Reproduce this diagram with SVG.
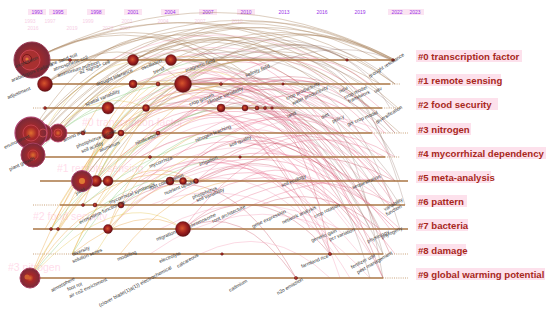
<svg xmlns="http://www.w3.org/2000/svg" width="550" height="314" viewBox="0 0 550 314">
<defs>
<radialGradient id="ng" cx="45%" cy="45%" r="60%">
<stop offset="0" stop-color="#d8552c"/>
<stop offset="0.55" stop-color="#9a1e1e"/>
<stop offset="1" stop-color="#5a0e12"/>
</radialGradient>
<radialGradient id="bg" cx="50%" cy="50%" r="50%">
<stop offset="0" stop-color="#e07030"/>
<stop offset="0.35" stop-color="#a82828"/>
<stop offset="0.75" stop-color="#8a2a34"/>
<stop offset="1" stop-color="#7a2838"/>
</radialGradient>
</defs>
<style>
.yr{font-family:"Liberation Sans",Arial,sans-serif;font-size:5px;fill:#9a33e8;text-anchor:middle}
.yg{font-family:"Liberation Sans",Arial,sans-serif;font-size:5px;fill:#f0a8d0;text-anchor:middle;opacity:.55}
.yb{fill:#fbe4f2}
.gh{font-family:"Liberation Sans",Arial,sans-serif;font-size:10.5px;fill:#ff8fbc;opacity:.3}
.cl{font-family:"Liberation Sans",Arial,sans-serif;font-size:9.6px;font-weight:bold;fill:#a8281c}
.hl{fill:#fde1ec}
.ln{stroke:#aa7644;stroke-width:1.3;fill:none}
.dt{stroke:#c9a27a;stroke-width:1;stroke-dasharray:1 1.2;fill:none}
.n{fill:url(#ng);stroke:#5a0e12;stroke-width:.4}
.nl{font-family:"Liberation Sans",Arial,sans-serif;font-size:5px;fill:#333}
#links path{fill:none}
.br{stroke:#a8805a;stroke-width:.65;opacity:.6}
.pk{stroke:#e4587a;stroke-width:.6;opacity:.55}
.rd{stroke:#c02e48;stroke-width:.6;opacity:.5}
.gy{stroke:#8e6a62;stroke-width:.55;opacity:.55}
.or{stroke:#e89c30;stroke-width:.65;opacity:.55}
.yl{stroke:#e2c040;stroke-width:.65;opacity:.55}
.gr{stroke:#86c87a;stroke-width:.65;opacity:.6}
.pl{stroke:#f4a2bc;stroke-width:.8;opacity:.5}
</style>
<rect width="550" height="314" fill="#ffffff"/>

<g id="years">
<rect class="yb" x="28" y="9" width="18" height="6"/>
<rect class="yb" x="49" y="9" width="18" height="6"/>
<rect class="yb" x="87" y="9" width="18" height="6"/>
<rect class="yb" x="124" y="9" width="18" height="6"/>
<rect class="yb" x="161" y="9" width="18" height="6"/>
<rect class="yb" x="199" y="9" width="18" height="6"/>
<rect class="yb" x="237" y="9" width="18" height="6"/>
<rect class="yb" x="388" y="9" width="18" height="6"/>
<rect class="yb" x="406" y="9" width="18" height="6"/>
<text class="yr" x="37" y="14">1993</text>
<text class="yr" x="58" y="14">1995</text>
<text class="yr" x="96" y="14">1998</text>
<text class="yr" x="133" y="14">2001</text>
<text class="yr" x="170" y="14">2004</text>
<text class="yr" x="208" y="14">2007</text>
<text class="yr" x="246" y="14">2010</text>
<text class="yr" x="284" y="14">2013</text>
<text class="yr" x="322" y="14">2016</text>
<text class="yr" x="360" y="14">2019</text>
<text class="yr" x="397" y="14">2022</text>
<text class="yr" x="415" y="14">2023</text>
<text class="yg" x="30" y="23">1993</text>
<text class="yg" x="50" y="23">1997</text>
<text class="yg" x="88" y="23">1999</text>
<text class="yg" x="127" y="23">2001</text>
<text class="yg" x="163" y="23">2004</text>
<text class="yg" x="200" y="23">2007</text>
<text class="yg" x="237" y="23">2010</text>
<text class="yg" x="33" y="30">2016</text>
<text class="yg" x="72" y="30">2019</text>
<text class="yg" x="108" y="30">2022</text>
<text class="yg" x="125" y="30">2007</text>
</g>

<g id="ghost-labels">
<text class="gh" x="82" y="126">#0 transcription factor</text>
<text class="gh" x="57" y="172">#1 remote sensing</text>
<text class="gh" x="33" y="220">#2 food security</text>
<text class="gh" x="8" y="271">#3 nitrogen</text>
</g>

<g id="links">
<path class="br" d="M32 60 Q213 -35 395 60"/>
<path class="br" d="M32 60 Q200 -25 360 84"/>
<path class="br" d="M45 84 Q220 -30 393 60"/>
<path class="br" d="M45 84 Q200 -15 347 60"/>
<path class="br" d="M31 133 Q190 -40 380 60"/>
<path class="br" d="M43 133 Q220 -50 395 84"/>
<path class="br" d="M58 133 Q230 -45 398 108"/>
<path class="br" d="M33 155 Q200 -50 390 60"/>
<path class="br" d="M82 181 Q240 -30 395 84"/>
<path class="br" d="M108 109 Q260 -10 395 60"/>
<path class="br" d="M133 60 Q260 -5 393 60"/>
<path class="br" d="M171 60 Q280 5 393 60"/>
<path class="br" d="M183 84 Q290 0 395 60"/>
<path class="br" d="M31 133 Q160 -20 290 60"/>
<path class="br" d="M32 60 Q150 -5 260 84"/>
<path class="br" d="M58 133 Q200 -30 347 84"/>
<path class="br" d="M96 181 Q230 -20 370 108"/>
<path class="br" d="M45 84 Q160 0 283 60"/>
<path class="br" d="M108 133 Q240 0 380 84"/>
<path class="br" d="M33 155 Q180 -30 330 108"/>
<path class="br" d="M31 133 Q120 -10 210 60"/>
<path class="br" d="M43 133 Q140 -5 250 84"/>
<path class="br" d="M32 60 Q120 10 220 60"/>
<path class="br" d="M45 84 Q120 20 183 84"/>
<path class="br" d="M58 133 Q170 0 300 108"/>
<path class="br" d="M82 181 Q200 20 320 133"/>
<path class="br" d="M32 60 Q190 -15 330 60"/>
<path class="br" d="M31 133 Q200 -55 400 133"/>
<path class="br" d="M43 133 Q180 -20 320 84"/>
<path class="br" d="M133 60 Q240 10 330 84"/>

<path class="pk" d="M183 84 Q280 20 380 108"/>
<path class="pk" d="M220 108 Q300 40 385 133"/>
<path class="pk" d="M183 229 Q280 100 385 157"/>
<path class="pk" d="M170 181 Q270 80 370 133"/>
<path class="pk" d="M196 181 Q300 90 395 181"/>
<path class="pk" d="M146 108 Q260 30 360 157"/>
<path class="pk" d="M246 108 Q320 60 395 205"/>
<path class="pk" d="M183 84 Q270 50 350 205"/>
<path class="pk" d="M121 205 Q240 80 340 133"/>
<path class="pk" d="M221 84 Q300 30 370 84"/>
<path class="pk" d="M257 108 Q330 60 390 157"/>
<path class="pk" d="M183 229 Q300 130 400 229"/>
<path class="pk" d="M108 229 Q250 90 390 205"/>
<path class="pk" d="M121 133 Q250 40 330 181"/>
<path class="pk" d="M158 133 Q260 60 350 108"/>
<path class="pk" d="M170 181 Q290 120 395 229"/>
<path class="pk" d="M108 181 Q230 60 320 84"/>
<path class="pk" d="M146 108 Q230 30 300 84"/>
<path class="pk" d="M133 84 Q240 40 310 157"/>
<path class="pk" d="M171 60 Q260 30 330 133"/>
<path class="pk" d="M196 181 Q270 140 310 229"/>
<path class="pk" d="M140 133 Q230 70 290 181"/>
<path class="pk" d="M200 157 Q280 100 360 205"/>
<path class="pk" d="M150 181 Q250 120 340 254"/>
<path class="pk" d="M230 133 Q300 90 380 181"/>
<path class="pk" d="M160 205 Q260 130 370 229"/>
<path class="pk" d="M130 157 Q220 80 300 133"/>
<path class="pk" d="M210 84 Q290 60 360 133"/>
<path class="pk" d="M250 157 Q320 110 395 157"/>
<path class="pk" d="M190 205 Q270 150 330 205"/>
<path class="pk" d="M240 181 Q310 140 380 254"/>
<path class="pk" d="M170 133 Q250 80 320 205"/>
<path class="pk" d="M130 108 Q250 50 370 181"/>
<path class="pk" d="M150 133 Q270 70 390 229"/>
<path class="pk" d="M170 157 Q280 100 395 254"/>
<path class="pk" d="M190 84 Q300 70 395 205"/>
<path class="pk" d="M140 181 Q240 120 330 229"/>
<path class="pk" d="M210 229 Q300 170 390 181"/>
<path class="pk" d="M230 205 Q310 160 395 205"/>
<path class="pk" d="M120 157 Q230 60 350 157"/>
<path class="pk" d="M160 108 Q260 70 340 108"/>
<path class="pk" d="M200 133 Q290 80 370 157"/>

<path class="rd" d="M220 108 Q310 70 390 254"/>
<path class="rd" d="M246 108 Q300 100 330 254"/>
<path class="rd" d="M183 84 Q250 60 300 133"/>
<path class="rd" d="M183 229 Q260 170 330 254"/>
<path class="rd" d="M121 205 Q220 140 296 278"/>
<path class="rd" d="M183 229 Q240 200 296 278"/>
<path class="rd" d="M257 108 Q320 110 383 278"/>
<path class="rd" d="M220 108 Q280 150 330 254"/>
<path class="rd" d="M183 84 Q300 100 383 278"/>
<path class="rd" d="M170 181 Q250 100 340 181"/>
<path class="rd" d="M146 108 Q240 60 320 157"/>
<path class="rd" d="M196 181 Q280 130 360 229"/>
<path class="rd" d="M108 133 Q200 70 270 157"/>
<path class="rd" d="M220 157 Q290 120 350 181"/>
<path class="rd" d="M260 205 Q320 180 380 229"/>
<path class="rd" d="M160 133 Q300 20 395 133"/>
<path class="rd" d="M183 84 Q280 70 350 181"/>
<path class="rd" d="M140 157 Q250 90 370 205"/>
<path class="rd" d="M200 181 Q300 130 395 181"/>

<path class="gy" d="M171 60 Q300 60 385 205"/>
<path class="gy" d="M133 60 Q280 40 370 229"/>
<path class="gy" d="M183 84 Q300 80 383 254"/>
<path class="gy" d="M221 84 Q320 80 395 181"/>
<path class="gy" d="M146 108 Q300 70 380 229"/>
<path class="gy" d="M220 108 Q330 90 400 205"/>
<path class="gy" d="M183 84 Q320 60 390 133"/>
<path class="gy" d="M257 108 Q340 90 383 254"/>
<path class="gy" d="M171 60 Q310 30 395 108"/>
<path class="gy" d="M133 84 Q280 60 360 181"/>
<path class="gy" d="M283 84 Q340 70 395 133"/>
<path class="gy" d="M246 108 Q330 130 370 278"/>
<path class="gy" d="M200 60 Q320 40 395 157"/>
<path class="gy" d="M260 84 Q350 60 400 229"/>
<path class="gy" d="M300 60 Q360 50 405 205"/>
<path class="gy" d="M230 60 Q330 20 395 84"/>
<path class="gy" d="M250 60 Q340 20 390 108"/>
<path class="gy" d="M290 84 Q350 90 383 278"/>
<path class="gy" d="M210 60 Q300 30 347 60"/>
<path class="gy" d="M240 84 Q320 30 393 60"/>
<path class="gy" d="M270 60 Q350 40 400 181"/>
<path class="gy" d="M190 60 Q300 10 380 84"/>

<path class="or" d="M82 181 Q130 80 220 60"/>
<path class="or" d="M95 181 Q140 90 230 84"/>
<path class="or" d="M108 229 Q150 110 246 108"/>
<path class="or" d="M83 205 Q120 100 183 84"/>
<path class="or" d="M58 229 Q110 110 170 60"/>
<path class="or" d="M51 229 Q100 130 146 108"/>
<path class="or" d="M72 254 Q120 140 196 181"/>
<path class="or" d="M30 278 Q100 150 170 133"/>
<path class="or" d="M30 278 Q80 200 121 205"/>
<path class="or" d="M95 205 Q160 100 221 84"/>
<path class="or" d="M108 181 Q160 60 257 60"/>
<path class="or" d="M83 133 Q130 40 210 60"/>
<path class="yl" d="M108 133 Q170 40 247 84"/>
<path class="yl" d="M121 133 Q180 60 260 108"/>
<path class="yl" d="M43 133 Q90 50 171 60"/>
<path class="yl" d="M58 133 Q100 70 183 84"/>
<path class="yl" d="M33 155 Q90 80 146 108"/>
<path class="yl" d="M30 278 Q120 180 183 229"/>
<path class="or" d="M72 254 Q140 200 183 229"/>
<path class="or" d="M83 205 Q140 160 196 181"/>
<path class="yl" d="M108 229 Q160 170 220 181"/>
<path class="yl" d="M51 229 Q80 180 108 181"/>
<path class="or" d="M58 229 Q100 160 158 133"/>
<path class="yl" d="M72 254 Q110 170 150 157"/>
<path class="or" d="M30 278 Q70 180 108 133"/>
<path class="yl" d="M95 254 Q140 180 190 157"/>
<path class="or" d="M120 254 Q170 190 230 181"/>
<path class="yl" d="M60 205 Q110 120 160 108"/>
<path class="or" d="M82 181 Q110 100 146 84"/>
<path class="yl" d="M96 181 Q130 110 183 108"/>
<path class="or" d="M45 229 Q90 150 133 108"/>
<path class="yl" d="M30 278 Q60 220 96 181"/>
<path class="or" d="M108 229 Q140 160 200 133"/>
<path class="gr" d="M82 181 Q110 110 171 84"/>
<path class="gr" d="M95 181 Q150 70 246 60"/>
<path class="gr" d="M108 109 Q150 70 200 60"/>
<path class="gr" d="M58 133 Q110 90 170 84"/>
<path class="gr" d="M30 278 Q90 200 150 181"/>
<path class="gr" d="M83 205 Q160 140 240 133"/>
<path class="gr" d="M121 205 Q190 150 260 157"/>
<path class="gr" d="M33 155 Q80 110 108 108"/>
<path class="gr" d="M72 254 Q130 160 200 133"/>
<path class="gr" d="M51 229 Q120 140 210 108"/>
<path class="gr" d="M108 181 Q150 120 220 108"/>

<path class="pl" d="M140 60 Q260 20 370 108"/>
<path class="pl" d="M150 84 Q270 40 380 157"/>
<path class="pl" d="M170 108 Q270 60 385 181"/>
<path class="pl" d="M180 133 Q280 90 390 205"/>
<path class="pl" d="M190 157 Q290 120 395 229"/>
<path class="pl" d="M130 181 Q250 120 360 254"/>
<path class="pl" d="M150 205 Q260 160 370 278"/>
<path class="pl" d="M160 84 Q260 110 350 229"/>
<path class="pl" d="M200 108 Q290 130 340 278"/>
<path class="pl" d="M210 133 Q300 140 370 254"/>
<path class="pl" d="M230 84 Q320 120 360 229"/>
<path class="pl" d="M180 60 Q290 90 330 205"/>
<path class="pl" d="M120 108 Q230 50 330 108"/>
<path class="pl" d="M140 157 Q240 100 340 157"/>
<path class="pl" d="M160 229 Q250 180 340 229"/>
<path class="pl" d="M200 254 Q270 220 330 278"/>
<path class="pl" d="M110 60 Q220 10 320 60"/>
<path class="pl" d="M250 133 Q320 100 385 133"/>
<path class="pl" d="M120 133 Q220 70 310 133"/>
<path class="pl" d="M130 205 Q230 140 320 181"/>
<path class="pl" d="M150 254 Q240 190 330 229"/>
<path class="pl" d="M170 60 Q260 60 320 181"/>
<path class="pl" d="M140 84 Q220 40 290 108"/>
<path class="pl" d="M190 181 Q280 160 350 278"/>
</g>

<g id="cluster-0">
<line class="ln" x1="33" y1="60" x2="395" y2="60"/>
<circle class="n" cx="70" cy="60" r="1.5"/>
<circle class="n" cx="133" cy="60" r="5.5"/>
<circle class="n" cx="171" cy="60" r="5.5"/>
<circle class="n" cx="347" cy="60" r="1.3"/>
<circle class="n" cx="393" cy="60" r="1.3"/>
<circle cx="32" cy="60" r="18" fill="url(#bg)" stroke="#9c3a54" stroke-width="1"/>
<circle cx="30" cy="60" r="10" fill="#a83030" stroke="#d24a5a" stroke-width=".8"/>
<circle cx="27" cy="59" r="4.5" fill="#b83a3a" stroke="#6a1010" stroke-width=".8"/>
<circle cx="27" cy="59" r="1.6" fill="#e07a3a"/>
<rect class="hl" x="416" y="50" width="106" height="12"/>
<text class="cl" x="418" y="60">#0 transcription factor</text>
</g>

<g id="cluster-1">
<line class="ln" x1="45" y1="84" x2="390" y2="84"/>
<line class="dt" x1="390" y1="84" x2="400" y2="84"/>
<circle class="n" cx="45" cy="84" r="7.5"/>
<circle class="n" cx="133" cy="84" r="4"/>
<circle class="n" cx="158" cy="84" r="2"/>
<circle class="n" cx="183" cy="84" r="8.5"/>
<circle class="n" cx="221" cy="84" r="1.5"/>
<circle class="n" cx="283" cy="84" r="1.2"/>
<rect class="hl" x="416" y="74" width="85" height="12"/>
<text class="cl" x="418" y="84">#1 remote sensing</text>
</g>

<g id="cluster-2">
<line class="dt" x1="33" y1="108" x2="45" y2="108"/>
<line class="ln" x1="45" y1="108" x2="382" y2="108"/>
<line class="dt" x1="382" y1="108" x2="402" y2="108"/>
<circle class="n" cx="45" cy="108" r="1.5"/>
<circle class="n" cx="108" cy="108" r="6"/>
<circle class="n" cx="146" cy="108" r="3.5"/>
<circle class="n" cx="221" cy="108" r="4"/>
<circle class="n" cx="245" cy="108" r="3"/>
<circle class="n" cx="257" cy="108" r="2"/>
<circle class="n" cx="265" cy="108" r="1.5"/>
<circle class="n" cx="272" cy="108" r="1.3"/>
<rect class="hl" x="416" y="98" width="82" height="12"/>
<text class="cl" x="418" y="108">#2 food security</text>
</g>

<g id="cluster-3">
<line class="ln" x1="30" y1="133" x2="372" y2="133"/>
<line class="dt" x1="372" y1="133" x2="408" y2="133"/>
<circle class="n" cx="83" cy="133" r="2"/>
<circle class="n" cx="108" cy="133" r="6"/>
<circle class="n" cx="121" cy="133" r="3"/>
<circle class="n" cx="158" cy="133" r="2"/>
<circle cx="58" cy="133" r="9" fill="url(#bg)" stroke="#c0406a" stroke-width=".8"/>
<circle cx="43" cy="133" r="9" fill="url(#bg)" stroke="#c0406a" stroke-width=".8"/>
<circle cx="31" cy="133" r="16" fill="url(#bg)" stroke="#b04470" stroke-width="1.2"/>
<circle cx="31" cy="133" r="8" fill="none" stroke="#d04a5a" stroke-width=".7"/>
<circle cx="43" cy="133" r="4" fill="none" stroke="#e05a5a" stroke-width=".6"/>
<circle cx="58" cy="133" r="4" fill="none" stroke="#e05a5a" stroke-width=".6"/>
<rect class="hl" x="416" y="123" width="55" height="12"/>
<text class="cl" x="418" y="133">#3 nitrogen</text>
</g>

<g id="cluster-4">
<line class="ln" x1="33" y1="157" x2="385" y2="157"/>
<line class="dt" x1="385" y1="157" x2="400" y2="157"/>
<circle class="n" cx="150" cy="157" r="1.5"/>
<circle class="n" cx="240" cy="157" r="1.3"/>
<circle cx="33" cy="155" r="12" fill="url(#bg)" stroke="#a84060" stroke-width="1"/>
<circle cx="33" cy="155" r="5" fill="none" stroke="#d85050" stroke-width=".6"/>
<rect class="hl" x="416" y="147" width="130" height="12"/>
<text class="cl" x="418" y="157">#4 mycorrhizal dependency</text>
</g>

<g id="cluster-5">
<line class="ln" x1="40" y1="181" x2="408" y2="181"/>
<circle class="n" cx="96" cy="181" r="5.5"/>
<circle class="n" cx="108" cy="181" r="5"/>
<circle class="n" cx="170" cy="181" r="4"/>
<circle class="n" cx="183" cy="181" r="3.5"/>
<circle class="n" cx="196" cy="181" r="2.5"/>
<circle cx="82" cy="181" r="10.5" fill="url(#bg)" stroke="#a84070" stroke-width="1"/>
<circle cx="82" cy="181" r="3" fill="#e07a34"/>
<rect class="hl" x="416" y="171" width="75" height="12"/>
<text class="cl" x="418" y="181">#5 meta-analysis</text>
</g>

<g id="cluster-6">
<line class="dt" x1="33" y1="205" x2="60" y2="205"/>
<line class="ln" x1="60" y1="205" x2="405" y2="205"/>
<circle class="n" cx="83" cy="205" r="1.5"/>
<circle class="n" cx="95" cy="205" r="2"/>
<circle class="n" cx="121" cy="205" r="3"/>
<rect class="hl" x="416" y="195" width="51" height="12"/>
<text class="cl" x="418" y="205">#6 pattern</text>
</g>

<g id="cluster-7">
<line class="ln" x1="33" y1="229" x2="408" y2="229"/>
<circle class="n" cx="51" cy="229" r="1.5"/>
<circle class="n" cx="58" cy="229" r="1.5"/>
<circle class="n" cx="108" cy="229" r="4.5"/>
<circle class="n" cx="183" cy="229" r="7.5"/>
<rect class="hl" x="416" y="219" width="52" height="12"/>
<text class="cl" x="418" y="229">#7 bacteria</text>
</g>

<g id="cluster-8">
<line class="dt" x1="33" y1="254" x2="72" y2="254"/>
<line class="ln" x1="72" y1="254" x2="383" y2="254"/>
<line class="dt" x1="383" y1="254" x2="408" y2="254"/>
<circle class="n" cx="222" cy="254" r="1.3"/>
<circle class="n" cx="330" cy="254" r="1.6"/>
<rect class="hl" x="416" y="244" width="50" height="12"/>
<text class="cl" x="418" y="254">#8 damage</text>
</g>

<g id="cluster-9">
<line class="ln" x1="30" y1="278" x2="383" y2="278"/>
<line class="dt" x1="383" y1="278" x2="408" y2="278"/>
<circle class="n" cx="296" cy="278" r="1.6"/>
<circle cx="30" cy="278" r="10" fill="url(#bg)" stroke="#a84060" stroke-width="1"/>
<circle cx="27" cy="277" r="2.5" fill="#d06030"/>
<rect class="hl" x="416" y="268" width="129" height="12"/>
<text class="cl" x="418" y="278">#9 global warming potential</text>
</g>

<g id="node-labels" class="nl">
<text x="16" y="68" transform="rotate(-22 16 68)">expression</text>
<text x="50" y="66" transform="rotate(-20 50 66)">fine sand soil</text>
<text x="54" y="71" transform="rotate(-20 54 71)">atmospheric co2</text>
<text x="58" y="77" transform="rotate(-18 58 77)">ammonium nutrition</text>
<text x="80" y="74" transform="rotate(-20 80 74)">a2 sigma+ cell</text>
<text x="12" y="82" transform="rotate(-22 12 82)">arabidopsis thaliana</text>
<text x="97" y="86" transform="rotate(-22 97 86)">drought tolerance</text>
<text x="142" y="70" transform="rotate(-22 142 70)">oscillation</text>
<text x="154" y="74" transform="rotate(-22 154 74)">trend</text>
<text x="186" y="72" transform="rotate(-20 186 72)">magnetic field</text>
<text x="246" y="77" transform="rotate(-22 246 77)">salinity field</text>
<text x="370" y="78" transform="rotate(-33 370 78)">drought resistance</text>
<text x="8" y="99" transform="rotate(-22 8 99)">adjustment</text>
<text x="86" y="106" transform="rotate(-22 86 106)">spatial variability</text>
<text x="190" y="106" transform="rotate(-22 190 106)">crop growth</text>
<text x="208" y="104" transform="rotate(-22 208 104)">climate variability</text>
<text x="287" y="100" transform="rotate(-25 287 100)">crop productivity</text>
<text x="293" y="105" transform="rotate(-25 293 105)">water productivity</text>
<text x="340" y="93" transform="rotate(-25 340 93)">ndvi</text>
<text x="345" y="99" transform="rotate(-25 345 99)">crop model</text>
<text x="349" y="103" transform="rotate(-25 349 103)">framework</text>
<text x="375" y="93" transform="rotate(-25 375 93)">uav</text>
<text x="288" y="118" transform="rotate(-25 288 118)">land</text>
<text x="322" y="119" transform="rotate(-25 322 119)">diet</text>
<text x="333" y="123" transform="rotate(-25 333 123)">policy</text>
<text x="348" y="126" transform="rotate(-22 348 126)">gis crop model</text>
<text x="377" y="124" transform="rotate(-32 377 124)">diversification</text>
<text x="5" y="149" transform="rotate(-25 5 149)">environment</text>
<text x="64" y="142" transform="rotate(-25 64 142)">amino acid</text>
<text x="77" y="148" transform="rotate(-22 77 148)">phosphorus uptake</text>
<text x="82" y="153" transform="rotate(-22 82 153)">soil acidity</text>
<text x="100" y="152" transform="rotate(-22 100 152)">aluminum</text>
<text x="136" y="145" transform="rotate(-22 136 145)">nitrification</text>
<text x="196" y="142" transform="rotate(-22 196 142)">nitrogen leaching</text>
<text x="230" y="147" transform="rotate(-22 230 147)">soil quality</text>
<text x="10" y="171" transform="rotate(-25 10 171)">plant growth</text>
<text x="150" y="168" transform="rotate(-22 150 168)">mycorrhiza</text>
<text x="200" y="166" transform="rotate(-22 200 166)">irrigation</text>
<text x="76" y="195" transform="rotate(-25 76 195)">yield</text>
<text x="150" y="190" transform="rotate(-22 150 190)">root colonization</text>
<text x="165" y="195" transform="rotate(-22 165 195)">nutrient uptake</text>
<text x="193" y="199" transform="rotate(-22 193 199)">phosphorus</text>
<text x="197" y="202" transform="rotate(-22 197 202)">soil variability</text>
<text x="282" y="187" transform="rotate(-22 282 187)">soil ecology</text>
<text x="353" y="189" transform="rotate(-22 353 189)">sequestration</text>
<text x="110" y="204" transform="rotate(-22 110 204)">mycorrhizal symbiosis</text>
<text x="80" y="224" transform="rotate(-25 80 224)">ecosystem functioning</text>
<text x="190" y="228" transform="rotate(-25 190 228)">chromosome</text>
<text x="213" y="223" transform="rotate(-25 213 223)">root architecture</text>
<text x="253" y="228" transform="rotate(-25 253 228)">gene expression</text>
<text x="283" y="224" transform="rotate(-25 283 224)">network analysis</text>
<text x="315" y="218" transform="rotate(-25 315 218)">crop rotation</text>
<text x="385" y="211" transform="rotate(-30 385 211)">variability</text>
<text x="387" y="216" transform="rotate(-30 387 216)">function</text>
<text x="330" y="241" transform="rotate(-22 330 241)">pcr variation</text>
<text x="382" y="239" transform="rotate(-25 382 239)">phylogeny</text>
<text x="157" y="241" transform="rotate(-22 157 241)">migration</text>
<text x="312" y="242" transform="rotate(-22 312 242)">genetic gain</text>
<text x="368" y="243" transform="rotate(-25 368 243)">physiology</text>
<text x="73" y="256" transform="rotate(-22 73 256)">diversity</text>
<text x="73" y="263" transform="rotate(-22 73 263)">solution series</text>
<text x="118" y="261" transform="rotate(-22 118 261)">modeling</text>
<text x="160" y="263" transform="rotate(-22 160 263)">electrolyte</text>
<text x="178" y="268" transform="rotate(-30 178 268)">calcareous</text>
<text x="302" y="268" transform="rotate(-22 302 268)">farmland rice</text>
<text x="352" y="269" transform="rotate(-28 352 269)">fertilizer use</text>
<text x="358" y="274" transform="rotate(-30 358 274)">pest management</text>
<text x="52" y="292" transform="rotate(-28 52 292)">atmosphere</text>
<text x="68" y="291" transform="rotate(-22 68 291)">foot rot</text>
<text x="70" y="298" transform="rotate(-25 70 298)">air co2 enrichment</text>
<text x="100" y="307" transform="rotate(-28 100 307)">(clover blade(1)a(1)) electrochemical</text>
<text x="230" y="292" transform="rotate(-30 230 292)">cadmium</text>
<text x="278" y="295" transform="rotate(-30 278 295)">n2o emission</text>
</g>
</svg>
